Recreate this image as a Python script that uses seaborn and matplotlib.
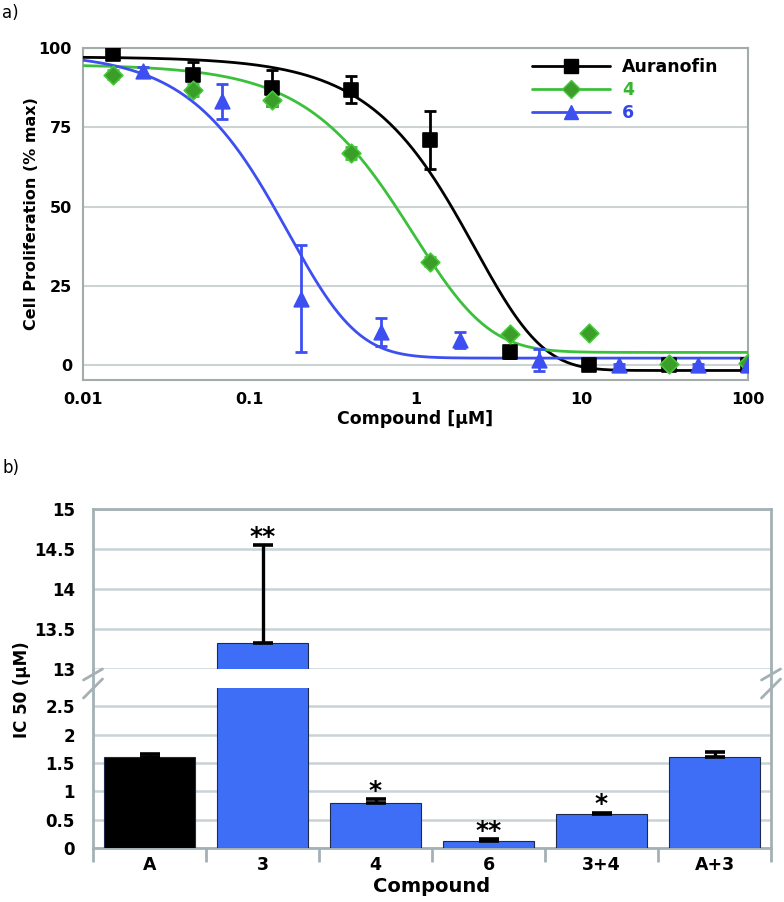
import numpy as np
import pandas as pd
import matplotlib
matplotlib.use('Agg')
import matplotlib.pyplot as plt
import seaborn as sns
from matplotlib.lines import Line2D
from matplotlib.ticker import FixedLocator, NullFormatter, FixedFormatter

# ---------------- data: panel a (dose response) ----------------
conc_auranofin = [0.0152, 0.0457, 0.137, 0.412, 1.23, 3.70, 11.1, 33.3, 100.0]
prolif_auranofin = [98.0, 91.6, 87.4, 86.8, 71.0, 4.1, 0.0, 0.0, 0.0]
err_auranofin = [1.0, 4.0, 5.8, 4.3, 9.1, 2.0, 0.5, 0.5, 0.5]

conc_4 = [0.0152, 0.0457, 0.137, 0.412, 1.23, 3.70, 11.1, 33.3, 100.0]
prolif_4 = [91.6, 86.8, 83.7, 66.9, 32.6, 9.8, 10.2, 0.5, 0.8]
err_4 = [1.5, 2.0, 2.0, 2.0, 1.5, 1.0, 1.0, 1.0, 1.0]

conc_6 = [0.0229, 0.0686, 0.206, 0.617, 1.85, 5.56, 16.7, 50.0, 100.0]
prolif_6 = [92.6, 83.2, 21.0, 10.5, 7.9, 1.6, 0.0, 0.0, 0.0]
err_6 = [1.5, 5.6, 17.0, 4.5, 2.6, 3.5, 0.5, 0.5, 0.5]

series_names = ['Auranofin', '4', '6']
# fitted dose-response parameters (5-parameter logistic)
fit_top = [97.2, 94.8, 98.5]
fit_bottom = [-1.7, 4.0, 2.2]
fit_mid = [12.9, 3.1, 0.5]
fit_slope = [1.2, 1.2, 1.3]
fit_asym = [8.0, 4.0, 4.0]

x_ticks_a = [0.01, 0.1, 1, 10, 100]
x_ticklabels_a = ['0.01', '0.1', '1', '10', '100']
y_ticks_a = [0, 25, 50, 75, 100]

# ---------------- data: panel b (IC50 bars) ----------------
compounds = ['A', '3', '4', '6', '3+4', 'A+3']
ic50 = [1.60, 13.32, 0.787, 0.129, 0.593, 1.597]
ic50_err = [0.055, 1.23, 0.076, 0.03, 0.03, 0.09]
signif = ['', '**', '*', '**', '*', '']
y_ticks_upper = [13, 13.5, 14, 14.5, 15]
y_ticks_lower = [0, 0.5, 1, 1.5, 2, 2.5]

# ---------------- style ----------------
sns.set_theme(style='white')
plt.rcParams['font.family'] = ['DejaVu Sans']
plt.rcParams['font.weight'] = 'bold'
plt.rcParams['axes.labelweight'] = 'bold'
plt.rcParams['text.color'] = 'black'
plt.rcParams['axes.labelcolor'] = 'black'
plt.rcParams['xtick.labelcolor'] = 'black'
plt.rcParams['ytick.labelcolor'] = 'black'

W, H = 784, 902
fig = plt.figure(figsize=(W / 100, H / 100), dpi=100)

def fx(px):
    return px / W

def fy(py):
    return 1 - py / H

line_colors = ['#000000', '#3cc03c', '#3d4ff0']
face_colors = ['#000000', '#3a9e28', '#3d4ff0']
edge_colors = ['#000000', '#46c83a', '#3d4ff0']
text_colors = ['#000000', '#36b52e', '#3347e8']
markers = ['s', 'D', '^']
msizes = [9.5, 9.5, 10.5]

spine_a = '#a4abab'
grid_a = '#cdd2d2'

# ---------------- panel a ----------------
ax1 = fig.add_axes([fx(83), fy(380), fx(748) - fx(83), (380 - 48) / H])
ax1.set_xscale('log')

xs = np.logspace(-2, 2, 600)
rows = []
for name, top, bot, c, b, g in zip(series_names, fit_top, fit_bottom, fit_mid, fit_slope, fit_asym):
    yv = bot + (top - bot) / (1 + (xs / c) ** b) ** g
    rows.append(pd.DataFrame({'conc': xs, 'prolif': yv, 'series': name}))
curves = pd.concat(rows, ignore_index=True)
sns.lineplot(data=curves, x='conc', y='prolif', hue='series', hue_order=series_names,
             palette=dict(zip(series_names, line_colors)), linewidth=2.0,
             estimator=None, errorbar=None, sort=False, legend=False, ax=ax1, zorder=3)

pts = [(conc_auranofin, prolif_auranofin, err_auranofin),
       (conc_4, prolif_4, err_4),
       (conc_6, prolif_6, err_6)]
for i, (cx, cy, ce) in enumerate(pts):
    ax1.errorbar(cx, cy, yerr=ce, fmt='none', ecolor=line_colors[i],
                 elinewidth=2.0, capsize=4.5, capthick=2.0, zorder=4)
    sns.scatterplot(x=cx, y=cy, marker=markers[i], s=msizes[i] ** 2, color=face_colors[i],
                    edgecolor=edge_colors[i], linewidth=1.2, ax=ax1, zorder=5)

ax1.set_xlim(0.01, 100)
ax1.set_ylim(-4.7, 100)
ax1.xaxis.set_major_locator(FixedLocator(x_ticks_a))
ax1.xaxis.set_major_formatter(FixedFormatter(x_ticklabels_a))
minor_x = [m * d for d in [0.01, 0.1, 1, 10] for m in range(2, 10)]
ax1.xaxis.set_minor_locator(FixedLocator(minor_x))
ax1.xaxis.set_minor_formatter(NullFormatter())
ax1.yaxis.set_major_locator(FixedLocator(y_ticks_a))
ax1.yaxis.set_minor_locator(FixedLocator(list(range(5, 100, 5))))
ax1.tick_params(axis='both', which='major', direction='in', length=16, width=1.3,
                color='#8f9696', labelsize=11.5, labelcolor='black', pad=8)
ax1.tick_params(axis='both', which='minor', direction='in', length=5, width=1.2, color='#8f9696')
ax1.tick_params(axis='x', which='major', pad=9)
ax1.tick_params(top=False, right=False, which='both')
ax1.grid(axis='y', which='major', color=grid_a, linewidth=1.5)
ax1.grid(axis='x', visible=False)
for s in ax1.spines.values():
    s.set_visible(True)
    s.set_color(spine_a)
    s.set_linewidth(1.5)
ax1.set_xlabel('Compound [µM]', fontsize=12.5, labelpad=2)
ax1.set_ylabel('Cell Proliferation (% max)', fontsize=11.5, labelpad=0)

handles = [Line2D([0], [0], color=line_colors[i], lw=2.0, marker=markers[i], markersize=msizes[i],
                  markerfacecolor=face_colors[i], markeredgecolor=edge_colors[i])
           for i in range(3)]
leg = ax1.legend(handles, series_names, loc='upper left', bbox_to_anchor=(0.675, 0.97),
                 frameon=False, handlelength=4.5, handletextpad=0.7, labelspacing=0.3,
                 borderpad=0, borderaxespad=0, prop={'size': 12.5, 'weight': 'bold'})
for t, c in zip(leg.get_texts(), text_colors):
    t.set_color(c)

fig.text(fx(2), fy(13), 'a)', fontsize=12, fontweight='normal', va='center', ha='left')

# ---------------- panel b ----------------
spine_b = '#a3b1b5'
grid_b = '#c9d3d6'
bar_colors = ['#000000'] + ['#3d6ef5'] * 5

ax_up = fig.add_axes([fx(93), fy(669), fx(771) - fx(93), 160 / H])
ax_lo = fig.add_axes([fx(93), fy(848), fx(771) - fx(93), 160 / H])

df = pd.DataFrame({'compound': compounds, 'ic50': ic50})
pos = np.arange(len(compounds))
for ax in (ax_up, ax_lo):
    sns.barplot(data=df, x='compound', y='ic50', hue='compound', order=compounds,
                palette=dict(zip(compounds, bar_colors)), width=0.8, errorbar=None,
                saturation=1, edgecolor='#1e2a4a', linewidth=0.8, legend=False, ax=ax, zorder=3)
    ax.errorbar(pos, ic50, yerr=[np.zeros(len(ic50)), ic50_err], fmt='none', ecolor='black',
                elinewidth=2.4, capsize=7.5, capthick=2.6, zorder=4)
    ax.set_xlim(-0.5, 5.5)
    ax.grid(axis='y', color=grid_b, linewidth=1.8, zorder=0)
    ax.grid(axis='x', visible=False)
    ax.set_axisbelow(True)
    for s in ax.spines.values():
        s.set_color(spine_b)
        s.set_linewidth(2.0)
    ax.tick_params(axis='y', which='major', direction='out', length=11, width=1.8, color=spine_b,
                   labelsize=12, labelcolor='black', pad=2)
    ax.set_ylabel('')
    ax.set_xlabel('')

ax_up.set_ylim(13, 15)
ax_up.set_yticks(y_ticks_upper)
ax_up.set_yticklabels([f'{v:g}' for v in y_ticks_upper])
ax_up.spines['bottom'].set_visible(False)
ax_up.tick_params(axis='x', which='both', bottom=False, labelbottom=False)

ax_lo.set_ylim(0, 2.82)
ax_lo.set_yticks(y_ticks_lower)
ax_lo.set_yticklabels([f'{v:g}' for v in y_ticks_lower])
ax_lo.spines['top'].set_visible(False)
ax_lo.xaxis.set_major_locator(FixedLocator(list(np.arange(-0.5, 6.0, 1.0))))
ax_lo.xaxis.set_major_formatter(NullFormatter())
ax_lo.xaxis.set_minor_locator(FixedLocator(list(pos)))
ax_lo.xaxis.set_minor_formatter(FixedFormatter(compounds))
ax_lo.tick_params(axis='x', which='major', direction='out', length=10, width=2.0, color=spine_b, bottom=True)
ax_lo.tick_params(axis='x', which='minor', length=0, labelsize=12.5, labelcolor='black', pad=6, bottom=True)
ax_lo.set_xlabel('Compound', fontsize=14, labelpad=2, color='black')

# significance marks above error bars
for ax in (ax_up, ax_lo):
    lo, hi = ax.get_ylim()
    for p, v, e, s in zip(pos, ic50, ic50_err, signif):
        top = v + e
        if s and lo <= top <= hi:
            ax.annotate(s, (p, top), xytext=(0, 1), textcoords='offset points',
                        ha='center', va='baseline', fontsize=18, fontweight='bold',
                        color='black', annotation_clip=False)

# continuous spines across the axis break and break marks
for xp in (93, 771):
    fig.add_artist(Line2D([fx(xp), fx(xp)], [fy(669), fy(688)], color=spine_b, lw=2.0))
    for (x0, y0, x1, y1) in [(-9.5, 680, 9.5, 669), (-9.5, 698, 9.5, 679)]:
        fig.add_artist(Line2D([fx(xp + x0), fx(xp + x1)], [fy(y0), fy(y1)], color=spine_b, lw=2.0))

fig.text(fx(22), fy(690), 'IC 50 (µM)', rotation=90, fontsize=12, ha='center', va='center', color='black')
fig.text(fx(2), fy(468), 'b)', fontsize=12, fontweight='normal', va='center', ha='left', color='black')

fig.savefig('out.png', dpi=100)
